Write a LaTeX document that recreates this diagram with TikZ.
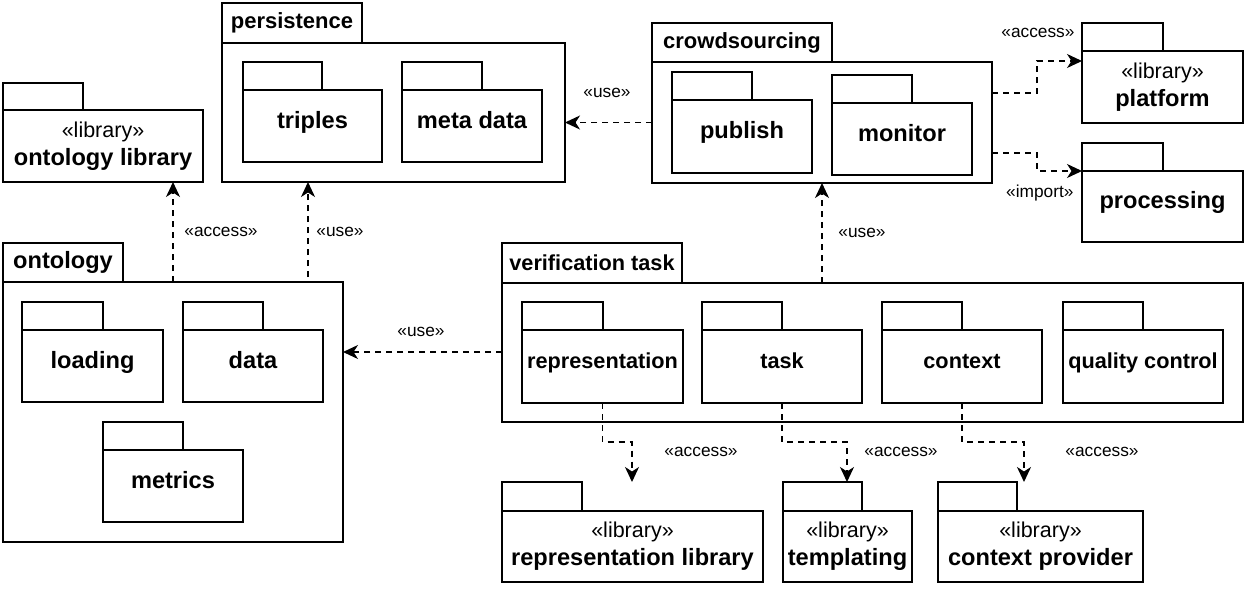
\documentclass[tikz,border=0pt]{standalone}
\usepackage{fontspec}
\setmainfont{Liberation Sans}
\usetikzlibrary{arrows.meta}

\tikzset{
  pkg/.style={draw, line width=1.6pt, inner sep=0pt, outer sep=0pt},
  tab/.style={pkg, anchor=south west, font=\fontsize{22}{24}\selectfont\bfseries},
  body/.style={pkg, anchor=north west, align=center, font=\fontsize{23.6}{28}\selectfont\bfseries},
  one/.style={text height=17pt, text depth=13pt},
  small/.style={one, font=\fontsize{21.7}{26}\selectfont\bfseries},
  dep/.style={line width=1.6pt, dash pattern=on 6pt off 5pt, -{Stealth[length=15pt,width=14pt,inset=4.5pt]}},
  stereo/.style={font=\fontsize{17.3}{20}\selectfont},
}
\newcommand{\lib}{{\mdseries\fontsize{21.5}{26}\selectfont «library»}}

\begin{document}
\begin{tikzpicture}[x=1pt,y=-1pt]
\useasboundingbox (0,0) rectangle (1245,592);
% outer packages
\node[tab,  minimum width=80,  minimum height=27]  (ontlib-tab) at (3,110) {};
\node[body, minimum width=200, minimum height=72]  (ontlib)     at (3,110) {\lib\\ontology library};
\node[tab,  minimum width=140, minimum height=40]  (pers-tab)   at (222,43) {persistence};
\node[body, minimum width=343, minimum height=139] (pers)       at (222,43) {};
\node[tab,  minimum width=180, minimum height=39]  (crowd-tab)  at (652,62) {crowdsourcing};
\node[body, minimum width=340, minimum height=121] (crowd)      at (652,62) {};
\node[tab,  minimum width=81,  minimum height=28]  (plat-tab)   at (1082,51) {};
\node[body, minimum width=161, minimum height=72]  (plat)       at (1082,51) {\lib\\platform};
\node[tab,  minimum width=81,  minimum height=28]  (proc-tab)   at (1082,171) {};
\node[body, one, minimum width=161, minimum height=71] (proc)   at (1082,171) {processing};
\node[tab,  minimum width=120, minimum height=39, font=\fontsize{23.6}{24}\selectfont\bfseries] (onto-tab) at (3,282) {ontology};
\node[body, minimum width=340, minimum height=260] (onto)       at (3,282) {};
\node[tab,  minimum width=180, minimum height=40, font=\fontsize{21.7}{24}\selectfont\bfseries] (verif-tab) at (502,283) {verification task};
\node[body, minimum width=741, minimum height=139] (verif)      at (502,283) {};
\node[tab,  minimum width=80,  minimum height=29]  (replib-tab) at (502,511) {};
\node[body, minimum width=261, minimum height=71]  (replib)     at (502,511) {\lib\\representation library};
\node[tab,  minimum width=79,  minimum height=29]  (tmpl-tab)   at (783,511) {};
\node[body, minimum width=129, minimum height=71]  (tmpl)       at (783,511) {\lib\\templating};
\node[tab,  minimum width=79,  minimum height=29]  (ctxprov-tab) at (938,511) {};
\node[body, minimum width=205, minimum height=71]  (ctxprov)    at (938,511) {\lib\\context provider};
% inner packages
\node[tab,  minimum width=79,  minimum height=28]  (triples-tab)  at (243,90) {};
\node[body, one, minimum width=139, minimum height=72] (triples)  at (243,90) {triples};
\node[tab,  minimum width=80,  minimum height=28]  (metadata-tab) at (402,90) {};
\node[body, one, minimum width=140, minimum height=72] (metadata) at (402,90) {meta data};
\node[tab,  minimum width=80,  minimum height=28]  (publish-tab)  at (672,100) {};
\node[body, one, minimum width=140, minimum height=73] (publish)  at (672,100) {publish};
\node[tab,  minimum width=80,  minimum height=28]  (monitor-tab)  at (832,103) {};
\node[body, one, minimum width=140, minimum height=72] (monitor)  at (832,103) {monitor};
\node[tab,  minimum width=81,  minimum height=28]  (loading-tab)  at (22,330) {};
\node[body, one, minimum width=141, minimum height=72] (loading)  at (22,330) {loading};
\node[tab,  minimum width=80,  minimum height=28]  (data-tab)     at (183,330) {};
\node[body, one, minimum width=140, minimum height=72] (data)     at (183,330) {data};
\node[tab,  minimum width=80,  minimum height=28]  (metrics-tab)  at (103,450) {};
\node[body, one, minimum width=140, minimum height=72] (metrics)  at (103,450) {metrics};
\node[tab,  minimum width=81,  minimum height=28]  (repr-tab)     at (522,330) {};
\node[body, small, minimum width=161, minimum height=73] (repr)   at (522,330) {representation};
\node[tab,  minimum width=80,  minimum height=28]  (task-tab)     at (702,330) {};
\node[body, small, minimum width=160, minimum height=73] (task)   at (702,330) {task};
\node[tab,  minimum width=80,  minimum height=28]  (ctx-tab)      at (882,330) {};
\node[body, small, minimum width=160, minimum height=73] (ctx)    at (882,330) {context};
\node[tab,  minimum width=80,  minimum height=28]  (qual-tab)     at (1063,330) {};
\node[body, small, minimum width=160, minimum height=73] (qual)   at (1063,330) {quality control};
% dependencies
\draw[dep] (crowd.west) -- (crowd.west -| pers.east);
\draw[dep] (crowd.east |- 0,93) -- (1037,93) -- (1037,61) -- (plat.west |- 0,61);
\draw[dep] (crowd.east |- 0,153) -- (1037,153) -- (1037,171) -- (proc.north west);
\draw[dep] (verif.north -| 822,0) -- (crowd.south -| 822,0);
\draw[dep] (verif.west |- 0,352) -- (onto.east |- 0,352);
\draw[dep] (onto.north -| 173,0) -- (ontlib.south -| 173,0);
\draw[dep] (onto.north -| 258,0) -- (308,282) -- (pers.south -| 308,0);
\draw[dep] (repr.south) |- (632,442) -- (replib-tab.north -| 632,0);
\draw[dep] (task.south) |- (847,442) -- (tmpl-tab.north -| 847,0);
\draw[dep] (ctx.south)  |- (1024,442) -- (ctxprov-tab.north -| 1024,0);
% stereotypes
\node[stereo] (use-pers)  at (607,93)  {«use»};
\node[stereo, anchor=east] (acc-plat) at (1078,33) {«access»};
\node[stereo, anchor=east] (imp-proc) at (1077,193) {«import»};
\node[stereo] (use-crowd) at (862,233) {«use»};
\node[stereo] (use-onto)  at (421,332) {«use»};
\node[stereo] (acc-ontlib) at (221,232) {«access»};
\node[stereo] (use-pers2) at (340,232) {«use»};
\node[stereo] (acc-replib) at (701,452) {«access»};
\node[stereo] (acc-tmpl)  at (901,452) {«access»};
\node[stereo] (acc-ctxprov) at (1102,452) {«access»};
\end{tikzpicture}
\end{document}
